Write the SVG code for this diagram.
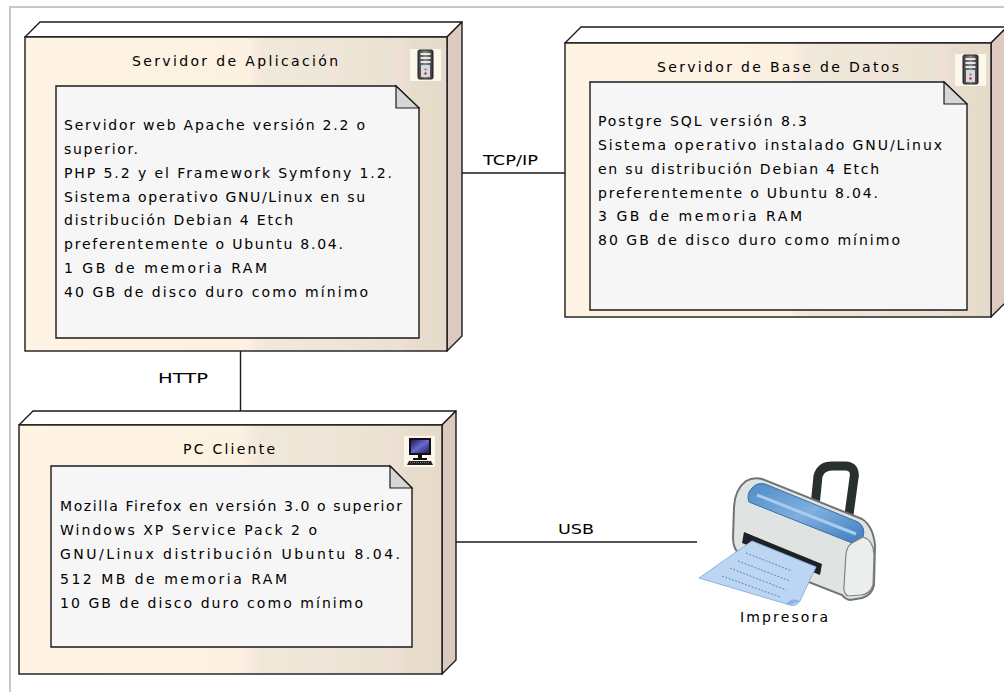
<svg xmlns="http://www.w3.org/2000/svg" width="1004" height="692" viewBox="0 0 1004 692">
  <defs>
    <linearGradient id="face" x1="0" y1="0" x2="1" y2="0">
      <stop offset="0" stop-color="#fff4e4"/>
      <stop offset="0.53" stop-color="#fdf1e2"/>
      <stop offset="0.54" stop-color="#f9ebe0"/>
      <stop offset="0.58" stop-color="#f0e8d8"/>
      <stop offset="0.7" stop-color="#eee6d6"/>
      <stop offset="0.72" stop-color="#f3e5dc"/>
      <stop offset="0.76" stop-color="#ede5d5"/>
      <stop offset="0.86" stop-color="#eae2d2"/>
      <stop offset="0.88" stop-color="#efe0d8"/>
      <stop offset="0.92" stop-color="#e8ddcc"/>
      <stop offset="1" stop-color="#e6dbca"/>
    </linearGradient>
    <linearGradient id="srv" x1="0" y1="0" x2="1" y2="0">
      <stop offset="0" stop-color="#3a3a3a"/>
      <stop offset="0.5" stop-color="#8a8a8a"/>
      <stop offset="1" stop-color="#2e2e2e"/>
    </linearGradient>
    <linearGradient id="scr" x1="0" y1="0" x2="1" y2="1">
      <stop offset="0" stop-color="#1c1c5a"/>
      <stop offset="0.5" stop-color="#6a6ad0"/>
      <stop offset="1" stop-color="#1c1c5a"/>
    </linearGradient>
    <linearGradient id="blue" x1="0" y1="0" x2="1" y2="1">
      <stop offset="0" stop-color="#4f8cc8"/>
      <stop offset="0.5" stop-color="#7eb0e0"/>
      <stop offset="1" stop-color="#3f7cbc"/>
    </linearGradient>
    <!-- small tower server glyph, 16x30 -->
    <g id="server-glyph">
      <rect x="-8" y="-1" width="31" height="32" fill="#fdf6ea"/>
      <rect x="0" y="0" width="15" height="29" rx="1.5" fill="url(#srv)" stroke="#222" stroke-width="1"/>
      <rect x="2.5" y="3" width="10" height="2" fill="#e6e6e6"/>
      <rect x="2.5" y="7" width="10" height="2" fill="#e6e6e6"/>
      <rect x="2.5" y="11" width="10" height="2" fill="#e6e6e6"/>
      <rect x="3" y="15" width="9" height="12" fill="#d8d8d8"/>
      <circle cx="7.5" cy="19.5" r="1.1" fill="#5a6ee0"/>
      <circle cx="7.5" cy="23.5" r="1.2" fill="#e02020"/>
    </g>
  </defs>
  <style>
    .edge { stroke: #1a1a1a; stroke-width: 1.4; fill: none; }
    .top { fill: #ffffff; stroke: #1a1a1a; stroke-width: 1.4; stroke-linejoin: round; }
    .side { fill: #dcc9bf; stroke: #1a1a1a; stroke-width: 1.4; stroke-linejoin: round; }
    .front { fill: url(#face); stroke: #1a1a1a; stroke-width: 1.4; }
    .note { fill: #f6f6f6; stroke: #1a1a1a; stroke-width: 1.4; stroke-linejoin: miter; }
    .fold { fill: #d6d6d6; stroke: #1a1a1a; stroke-width: 1.2; stroke-linejoin: miter; }
    text { font-family: "DejaVu Sans", "Liberation Sans", sans-serif; font-size: 14px; fill: #000; }
  </style>

  <!-- canvas frame -->
  <path d="M10,692 V7 H1004" fill="none" stroke="#c8c8c8" stroke-width="2"/>

  <!-- connectors -->
  <g id="connectors">
    <line class="edge" x1="462" y1="173" x2="565" y2="173"/>
    <text x="483" y="165" textLength="55" lengthAdjust="spacingAndGlyphs">TCP/IP</text>
    <line class="edge" x1="240.5" y1="351" x2="240.5" y2="411"/>
    <text x="158" y="383" textLength="50" lengthAdjust="spacingAndGlyphs">HTTP</text>
    <line class="edge" x1="456" y1="542" x2="697" y2="542"/>
    <text x="558" y="534" textLength="36" lengthAdjust="spacingAndGlyphs">USB</text>
  </g>

  <!-- application server node -->
  <g id="node-app-server">
    <polygon class="top" points="25,37 40,22 462,22 447,37"/>
    <polygon class="side" points="447,37 462,22 462,336 447,351"/>
    <rect class="front" x="25" y="37" width="422" height="314"/>
    <text x="132" y="66" textLength="206" lengthAdjust="spacing">Servidor de Aplicación</text>
    <use href="#server-glyph" x="418" y="50"/>
    <path class="note" d="M56,86 H396 L419,108 V338 H56 Z"/>
    <path class="fold" d="M396,86 V108 H419 Z"/>
    <text x="64" y="130" textLength="301" lengthAdjust="spacing">Servidor web Apache versión 2.2 o</text>
    <text x="64" y="154" textLength="74" lengthAdjust="spacing">superior.</text>
    <text x="64" y="178" textLength="328" lengthAdjust="spacing">PHP 5.2 y el Framework Symfony 1.2.</text>
    <text x="64" y="202" textLength="301" lengthAdjust="spacing">Sistema operativo GNU/Linux en su</text>
    <text x="64" y="225" textLength="229" lengthAdjust="spacing">distribución Debian 4 Etch</text>
    <text x="64" y="249" textLength="279" lengthAdjust="spacing">preferentemente o Ubuntu 8.04.</text>
    <text x="64" y="273" textLength="203" lengthAdjust="spacing">1 GB de memoria RAM</text>
    <text x="64" y="297" textLength="304" lengthAdjust="spacing">40 GB de disco duro como mínimo</text>
  </g>

  <!-- database server node -->
  <g id="node-db-server">
    <polygon class="top" points="565,43 581,27 1007,27 991,43"/>
    <polygon class="side" points="991,43 1007,27 1007,301 991,317"/>
    <rect class="front" x="565" y="43" width="426" height="274"/>
    <text x="657" y="72" textLength="242" lengthAdjust="spacing">Servidor de Base de Datos</text>
    <use href="#server-glyph" x="963" y="55"/>
    <path class="note" d="M590,82 H944 L967,104 V310 H590 Z"/>
    <path class="fold" d="M944,82 V104 H967 Z"/>
    <text x="598" y="126" textLength="209" lengthAdjust="spacing">Postgre SQL versión 8.3</text>
    <text x="598" y="150" textLength="344" lengthAdjust="spacing">Sistema operativo instalado GNU/Linux</text>
    <text x="598" y="174" textLength="281" lengthAdjust="spacing">en su distribución Debian 4 Etch</text>
    <text x="598" y="198" textLength="280" lengthAdjust="spacing">preferentemente o Ubuntu 8.04.</text>
    <text x="598" y="221" textLength="204" lengthAdjust="spacing">3 GB de memoria RAM</text>
    <text x="598" y="245" textLength="302" lengthAdjust="spacing">80 GB de disco duro como mínimo</text>
  </g>

  <!-- client PC node -->
  <g id="node-pc-client">
    <polygon class="top" points="19,425 33,411 456,411 442,425"/>
    <polygon class="side" points="442,425 456,411 456,660 442,674"/>
    <rect class="front" x="19" y="425" width="423" height="249"/>
    <text x="183" y="454" textLength="92" lengthAdjust="spacing">PC Cliente</text>
    <g id="pc-glyph">
      <rect x="404" y="436" width="31" height="31" fill="#fdf6ea"/>
      <rect x="409" y="438" width="22" height="17" fill="#111"/>
      <rect x="411" y="440" width="18" height="13" fill="url(#scr)"/>
      <rect x="418" y="455" width="4" height="4" fill="#111"/>
      <rect x="413" y="458" width="14" height="2" fill="#111"/>
      <path d="M409,461 H431 L433,465 H407 Z" fill="#222"/>
      <path d="M410,462.5 H430" stroke="#888" stroke-width="0.8" stroke-dasharray="1 1"/>
    </g>
    <path class="note" d="M51,466 H390 L412,488 V647 H51 Z"/>
    <path class="fold" d="M390,466 V488 H412 Z"/>
    <text x="60" y="511" textLength="342" lengthAdjust="spacing">Mozilla Firefox en versión 3.0 o superior</text>
    <text x="60" y="535" textLength="257" lengthAdjust="spacing">Windows XP Service Pack 2 o</text>
    <text x="60" y="559" textLength="340" lengthAdjust="spacing">GNU/Linux distribución Ubuntu 8.04.</text>
    <text x="60" y="584" textLength="227" lengthAdjust="spacing">512 MB de memoria RAM</text>
    <text x="60" y="608" textLength="303" lengthAdjust="spacing">10 GB de disco duro como mínimo</text>
  </g>

  <!-- printer device -->
  <g id="node-printer">
    <!-- paper support loop -->
    <path d="M814,516 L818,476 Q821,466 832,466 L846,466 Q856,467 854,478 L848,522" fill="none" stroke="#2a302f" stroke-width="9" stroke-linejoin="round"/>
    <!-- body -->
    <path d="M734,507 Q735,489 746,481 Q753,477 762,479 L862,519 Q873,526 875,545 L874,585 Q872,595 862,598 L850,600 Q845,599 842,595 L740,555 Q733,549 733,538 Z" fill="#dfe3e2" stroke="#6f7573" stroke-width="2"/>
    <!-- top panel -->
    <path d="M752,488 Q757,482 765,484 L858,522 Q866,527 863,537 L852,543 L749,502 Q746,494 752,488 Z" fill="url(#blue)" stroke="#3c6ea6" stroke-width="1"/>
    <path d="M757,495 L856,534" stroke="#a9cdee" stroke-width="3"/>
    <!-- right end cap -->
    <path d="M852,543 L863,537 Q873,540 874,554 L873,585 Q870,594 861,595 L848,596 Q843,593 844,586 L846,554 Q847,546 852,543 Z" fill="#eceeed" stroke="#7c8280" stroke-width="1.2"/>
    <!-- paper slot -->
    <path d="M744,532 L822,564 L820,575 L742,543 Z" fill="#1e2222"/>
    <!-- paper sheet -->
    <path d="M752,541 L816,567 L800,601 Q796,607 790,605 L699,578 Z" fill="#bcd5f2" stroke="#8fb2de" stroke-width="1"/>
    <path d="M800,601 Q792,597 786,604 L790,605 Z" fill="#8fb2de"/>
    <g stroke="#5f86c0" stroke-width="1" stroke-dasharray="2 1.5">
      <line x1="746" y1="553" x2="792" y2="571"/>
      <line x1="738" y1="561" x2="790" y2="581"/>
      <line x1="730" y1="568" x2="786" y2="590"/>
      <line x1="722" y1="576" x2="780" y2="597"/>
    </g>
    <text x="740" y="622" textLength="88" lengthAdjust="spacing">Impresora</text>
  </g>
</svg>
